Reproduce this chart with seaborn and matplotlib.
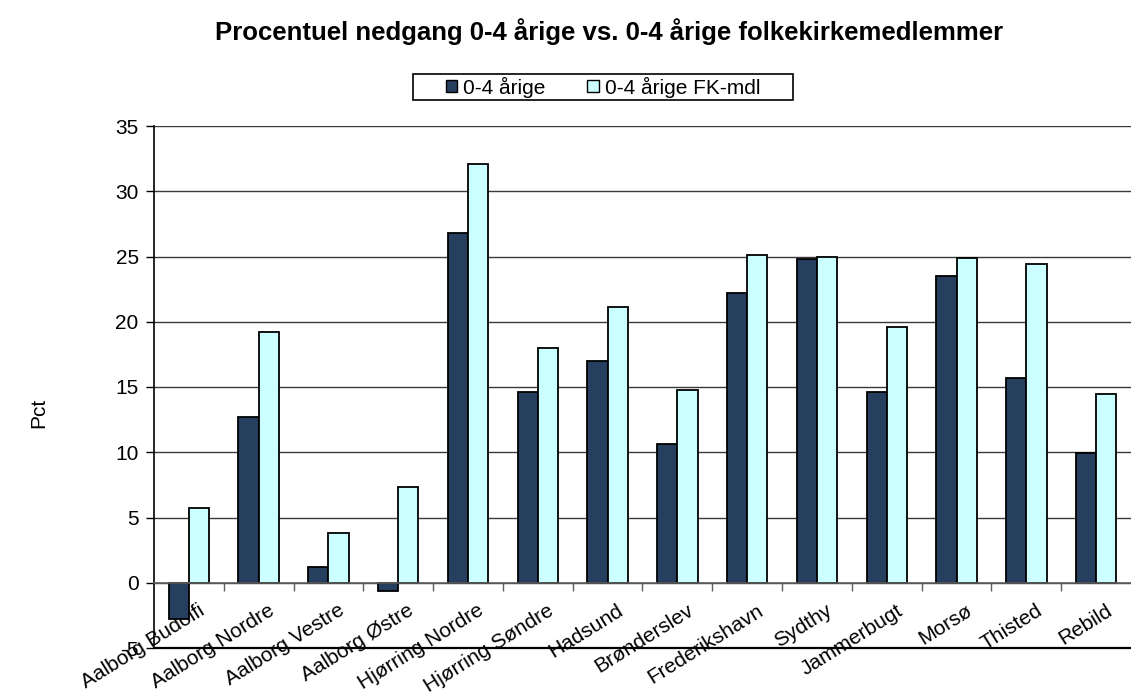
import matplotlib
matplotlib.use("Agg")
import matplotlib.pyplot as plt
import matplotlib.transforms as mtransforms
from matplotlib.patches import Rectangle
from matplotlib.ticker import FixedLocator
import seaborn as sns
import pandas as pd

categories = ["Aalborg Budolfi", "Aalborg Nordre", "Aalborg Vestre", "Aalborg Østre",
              "Hjørring Nordre", "Hjørring Søndre", "Hadsund", "Brønderslev",
              "Frederikshavn", "Sydthy", "Jammerbugt", "Morsø", "Thisted", "Rebild"]
series_names = ["0-4 årige", "0-4 årige FK-mdl"]
vals_04 = [-2.8, 12.7, 1.2, -0.65, 26.8, 14.6, 17.0, 10.6, 22.2, 24.8, 14.6, 23.5, 15.7, 9.95]
vals_fk = [5.7, 19.2, 3.85, 7.35, 32.05, 18.0, 21.1, 14.75, 25.15, 24.95, 19.6, 24.85, 24.4, 14.45]
yticks = [-5, 0, 5, 10, 15, 20, 25, 30, 35]
colors = ["#263F5F", "#CCFFFF"]

df = pd.DataFrame({
    "kommune": categories * 2,
    "serie": [series_names[0]] * len(categories) + [series_names[1]] * len(categories),
    "pct": vals_04 + vals_fk,
})

sns.set_theme(style="white")
plt.rcParams['font.family'] = ['Liberation Sans', 'DejaVu Sans']
plt.rcParams['text.color'] = 'black'
plt.rcParams['xtick.color'] = 'black'
plt.rcParams['ytick.color'] = 'black'
plt.rcParams['axes.labelcolor'] = 'black'

fig = plt.figure(figsize=(11.31, 6.93), dpi=100)
ax = fig.add_axes([154/1131, 1-648/693, 1-154/1131, (648-126)/693])

sns.barplot(data=df, x="kommune", y="pct", hue="serie", order=categories,
            hue_order=series_names, palette=colors, width=0.58, gap=0,
            edgecolor="black", linewidth=1.3, saturation=1, ax=ax, legend=True)

ax.set_ylim(-5, 35)
ax.set_xlim(-0.5, len(categories) - 0.5)
ax.set_yticks(yticks)
ax.set_yticklabels([str(t) for t in yticks], fontsize=15)
ax.yaxis.grid(True, color="#3a3a3a", linewidth=1)
ax.set_axisbelow(True)
ax.tick_params(axis="y", direction="out", length=6, width=1, pad=5, left=True)
# plot-area bottom border at the -5 level
ax.plot([0, 1], [0, 0], transform=ax.transAxes, color="black", linewidth=1.6,
        clip_on=False, zorder=1.5)

for s in ["top", "right"]:
    ax.spines[s].set_visible(False)
ax.spines["left"].set_color("black")
ax.spines["left"].set_linewidth(1.2)
ax.spines["bottom"].set_position(("data", 0))
ax.spines["bottom"].set_color("#606060")
ax.spines["bottom"].set_linewidth(1.2)

ax.set_xticks(range(len(categories)))
ax.set_xticklabels(categories, fontsize=15, rotation=32, ha="right", rotation_mode="anchor")
ax.xaxis.set_minor_locator(FixedLocator([i + 0.5 for i in range(len(categories) - 1)]))
ax.tick_params(axis="x", which="major", length=0, pad=13)
ax.tick_params(axis="x", which="minor", direction="out", length=6, width=1, color="#606060", bottom=True)
offset = mtransforms.ScaledTranslation(9/100, 0, fig.dpi_scale_trans)
for lbl in ax.get_xticklabels():
    lbl.set_transform(lbl.get_transform() + offset)

ax.set_xlabel("")
ax.set_ylabel("Pct", fontsize=15)
ax.yaxis.set_label_coords(-106/977, 0.45)

leg = ax.legend(ncol=2, loc="center", bbox_to_anchor=(603/1131, 1-87/693),
                bbox_transform=fig.transFigure, fontsize=15, frameon=False,
                handlelength=0.55, handleheight=0.55,
                handletextpad=0.3, columnspacing=2.0, borderpad=0.12, borderaxespad=0)
for h in leg.legend_handles:
    h.set_edgecolor("black")
    h.set_linewidth(1)

fig.text(609/1131, 1-32/693, "Procentuel nedgang 0-4 årige vs. 0-4 årige folkekirkemedlemmer",
         ha="center", va="center", fontsize=18.5, fontweight="bold")

# Excel-style legend frame: wide horizontal padding, tight vertical padding
fig.canvas.draw()
bb = leg.get_window_extent().transformed(fig.transFigure.inverted())
padx = 30 / 1131
fig.patches.append(Rectangle((bb.x0 - padx, bb.y0), bb.width + 2 * padx, bb.height,
                             transform=fig.transFigure, fill=False, edgecolor="black",
                             linewidth=1.2, figure=fig))

fig.savefig("out.png", dpi=100)
